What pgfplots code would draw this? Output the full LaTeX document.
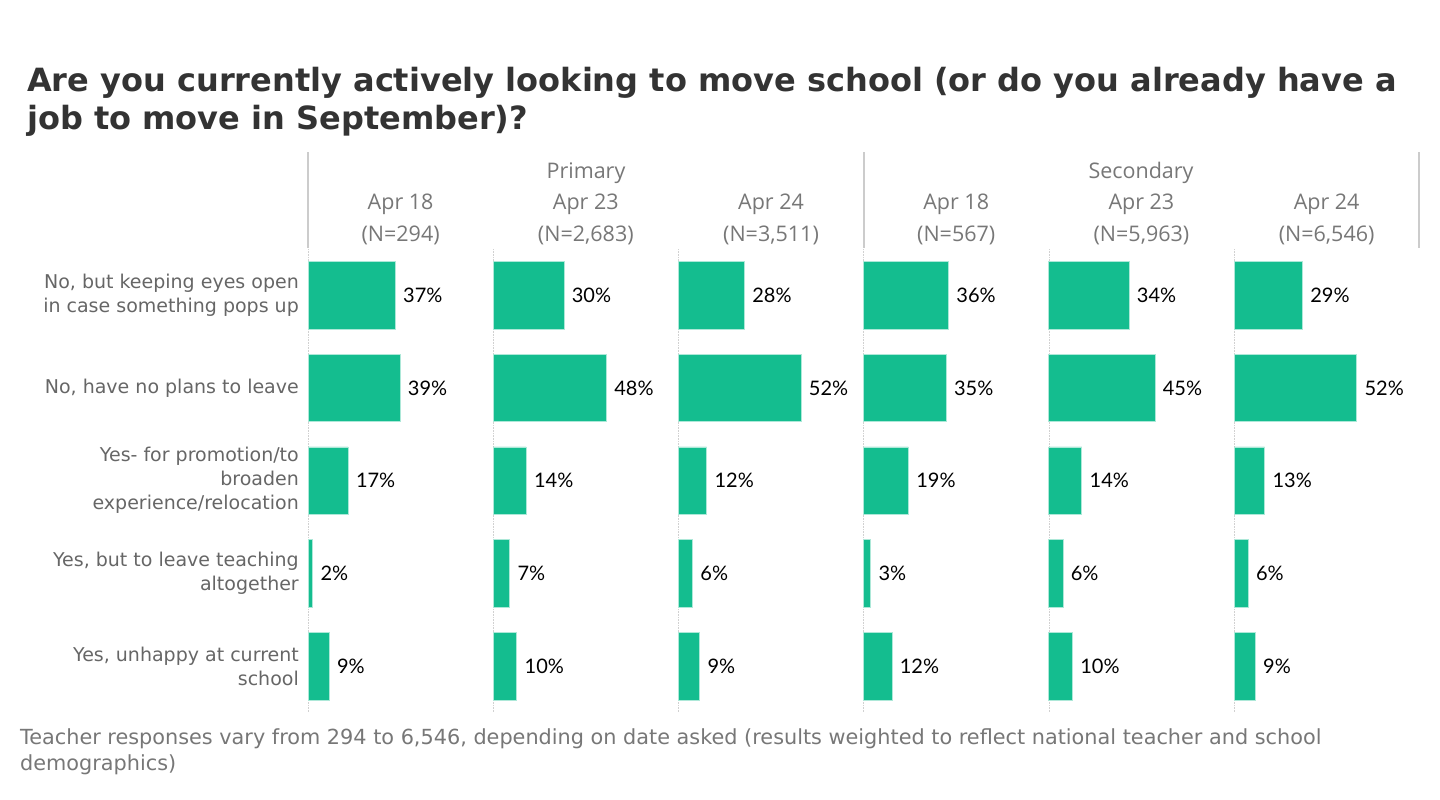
\documentclass[border=0pt]{standalone}
\usepackage{fontspec}
\setmainfont{DejaVu Sans}
\newfontfamily\lato{Lato}
\newfontfamily\opens{Open Sans}
\usepackage{pgfplots}
\pgfplotsset{compat=1.18}
\usepackage{pgfplotstable}
\definecolor{barc}{HTML}{14BD8F}
\definecolor{titlec}{HTML}{333333}
\definecolor{labc}{HTML}{666666}
\definecolor{headc}{HTML}{777777}

\pgfplotstableread{
y p18 p23 p24 s18 s23 s24
0 37 30 28 36 34 29
1 39 48 52 35 45 52
2 17 14 12 19 14 13
3 2 7 6 3 6 6
4 9 10 9 12 10 9
}\data

\pgfplotsset{panel/.style={
  xbar, scale only axis, width=185.2pt, height=463.5pt, anchor=south west,
  xmin=0, xmax=78.5, ymin=-0.5, ymax=4.5, y dir=reverse,
  bar width=0.73, bar shift=0pt,
  axis x line=none, axis y line=left,
  axis line style={-, densely dotted, black!18, line width=0.6pt},
  ytick={0,...,4}, yticklabels={}, major tick length=0pt,
  clip=false,
  point meta=x,
  /pgf/number format/assume math mode=true,
  nodes near coords={\pgfmathprintnumber{\pgfplotspointmeta}\%},
  nodes near coords style={font=\lato\fontsize{20}{22}\selectfont, text=black, anchor=west, inner sep=0pt, xshift=7.5pt},
  yticklabel style={font=\fontsize{19}{24}\selectfont, text=labc, align=right, anchor=east, inner sep=0pt, xshift=-9pt},
}}

\begin{document}
\begin{tikzpicture}
\path[use as bounding box] (0,0) rectangle (1440pt,800pt);

\begin{axis}[panel, at={(308pt,87.5pt)},
  yticklabels={{No, but keeping eyes open\\in case something pops up},{No, have no plans to leave},{Yes- for promotion/to\\broaden\\experience/relocation},{Yes, but to leave teaching\\altogether},{Yes, unhappy at current\\school}}]
\addplot[fill=barc, draw=barc!35!white, line width=0.8pt] table[x=p18, y=y] {\data};
\end{axis}
\begin{axis}[panel, at={(493.2pt,87.5pt)}]
\addplot[fill=barc, draw=barc!35!white, line width=0.8pt] table[x=p23, y=y] {\data};
\end{axis}
\begin{axis}[panel, at={(678.4pt,87.5pt)}]
\addplot[fill=barc, draw=barc!35!white, line width=0.8pt] table[x=p24, y=y] {\data};
\end{axis}
\begin{axis}[panel, at={(863.6pt,87.5pt)}]
\addplot[fill=barc, draw=barc!35!white, line width=0.8pt] table[x=s18, y=y] {\data};
\end{axis}
\begin{axis}[panel, at={(1048.8pt,87.5pt)}]
\addplot[fill=barc, draw=barc!35!white, line width=0.8pt] table[x=s23, y=y] {\data};
\end{axis}
\begin{axis}[panel, at={(1234pt,87.5pt)}]
\addplot[fill=barc, draw=barc!35!white, line width=0.8pt] table[x=s24, y=y] {\data};
\end{axis}

% header separators
\foreach \xx in {308,864,1419}
  \draw[black!20, line width=2.5pt] (\xx pt,552pt) -- (\xx pt,648pt);

% group headers
\node[anchor=base, inner sep=0pt, text=headc, font=\opens\fontsize{21.5}{24}\selectfont] at (586pt,621pt) {Primary};
\node[anchor=base, inner sep=0pt, text=headc, font=\opens\fontsize{21.5}{24}\selectfont] at (1141pt,621pt) {Secondary};

\foreach \cx/\dd/\nn in {400.6/Apr 18/294, 585.8/Apr 23/{2,683}, 771/Apr 24/{3,511}, 956.2/Apr 18/567, 1141.4/Apr 23/{5,963}, 1326.6/Apr 24/{6,546}} {
  \node[anchor=base, inner sep=0pt, text=headc, font=\opens\fontsize{21.5}{24}\selectfont] at (\cx pt,590pt) {\dd};
  \node[anchor=base, inner sep=0pt, text=headc, font=\opens\fontsize{21.5}{24}\selectfont] at (\cx pt,558pt) {(N=\nn)};
}

% title
\node[anchor=base west, inner sep=0pt, text=titlec, font=\bfseries\fontsize{32}{38}\selectfont] at (27pt,708pt) {Are you currently actively looking to move school (or do you already have a};
\node[anchor=base west, inner sep=0pt, text=titlec, font=\bfseries\fontsize{32}{38}\selectfont] at (27pt,670pt) {job to move in September)?};

% footer
\node[anchor=base west, inner sep=0pt, text=headc, font=\fontsize{20.8}{26}\selectfont] at (20pt,55pt) {Teacher responses vary from 294 to 6,546, depending on date asked (results weighted to reflect national teacher and school};
\node[anchor=base west, inner sep=0pt, text=headc, font=\fontsize{20.8}{26}\selectfont] at (20pt,29pt) {demographics)};
\end{tikzpicture}
\end{document}
